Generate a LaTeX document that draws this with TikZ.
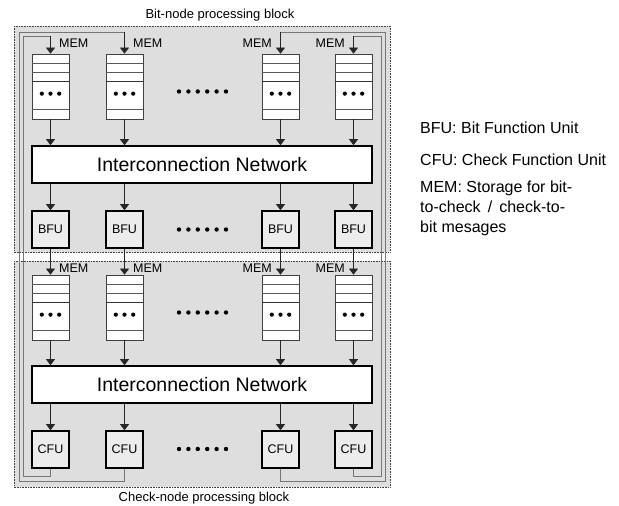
\documentclass[tikz,border=0pt]{standalone}
\usepackage{fontspec}
\setmainfont{Liberation Sans}
\usetikzlibrary{arrows.meta,calc}
\definecolor{bg}{HTML}{DEDEDE}
\definecolor{fu}{HTML}{ECECEC}
\definecolor{fbc}{HTML}{767676}
\begin{document}
\begin{tikzpicture}[x=1pt,y=-1pt,
  blockbox/.style={draw=black!75, densely dotted, fill=bg, line width=0.6pt},
  membox/.style={draw=black!75, fill=white, minimum width=37pt, minimum height=65pt, inner sep=0pt, line width=0.7pt},
  memline/.style={draw=black!65, line width=0.6pt},
  netbox/.style={draw=black, fill=white, line width=1.6pt, minimum width=340pt, minimum height=37pt, inner sep=0pt, font=\fontsize{19.5}{22}\selectfont},
  fubox/.style={draw=black, fill=fu, line width=1.6pt, minimum size=37pt, inner sep=0pt, font=\fontsize{12.5}{14}\selectfont},
  arr/.style={-{Triangle[width=9pt,length=6pt]}, line width=0.6pt, draw=black!85, fill=black},
  fb/.style={draw=fbc, line width=0.8pt},
  memlbl/.style={font=\fontsize{12.5}{14}\selectfont, inner sep=0pt},
  ttl/.style={font=\fontsize{13}{15}\selectfont, inner sep=0pt, anchor=base},
  lgd/.style={font=\fontsize{16}{20}\selectfont, inner sep=0pt, align=left}
]
\useasboundingbox (0,0) rectangle (619,506);
\fill[white] (0,0) rectangle (619,506);
% blocks
\draw[blockbox] (14,26) rectangle (390,252);
\draw[blockbox] (14,261) rectangle (390,487);
\node[ttl] (ttop) at (220,19) {Bit-node processing block};
\node[ttl] (tbot) at (204,501) {Check-node processing block};
% networks
\node[netbox] (net1) at (202,164.5) {Interconnection Network};
\node[netbox] (net2) at (202,384.5) {Interconnection Network};
% coordinates for feedback lines
\coordinate (fa1) at (23,476);  \coordinate (fb1) at (50.5,36);
\coordinate (fa2) at (19,481);  \coordinate (fb2) at (124.5,32);
\coordinate (fa3) at (385,481); \coordinate (fb3) at (280.5,32);
\coordinate (fa4) at (381,476); \coordinate (fb4) at (353.5,36);
% columns
\foreach \i/\x in {1/50.5,2/124.5,3/280.5,4/353.5} {
  \node[membox] (mt\i) at (\x,86.5) {};
  \node[membox] (mb\i) at (\x,307.5) {};
  \node[fubox] (bfu\i) at (\x,229.5) {BFU};
  \node[fubox] (cfu\i) at (\x,449.5) {CFU};
  \foreach \m in {mt\i,mb\i} {
    \foreach \o in {9.5,18.5,56}
      \draw[memline] ($(\m.north west)+(0,\o)$) -- ($(\m.north east)+(0,\o)$);
    \draw[memline, line width=0.9pt, draw=black!80] ($(\m.north west)+(0,28)$) -- ($(\m.north east)+(0,28)$);
    \foreach \d in {-8.7,0,8.7}
      \fill ($(\m.north)+(\d,40)$) circle (2.1pt);
  }
  \draw[arr] (mt\i.south) -- (mt\i.south |- net1.north);
  \draw[arr] (bfu\i.north |- net1.south) -- (bfu\i.north);
  \draw[arr] (bfu\i.south) -- (mb\i.north);
  \draw[arr] (mb\i.south) -- (mb\i.south |- net2.north);
  \draw[arr] (cfu\i.north |- net2.south) -- (cfu\i.north);
  \draw[fb] (cfu\i.south) |- (fa\i) |- (fb\i);
  \draw[arr] (fb\i) -- (mt\i.north);
}
% MEM labels
\node[memlbl, anchor=west] (lt1) at (59,43) {MEM};
\node[memlbl, anchor=west] (lt2) at (133,43) {MEM};
\node[memlbl, anchor=east] (lt3) at (272,43) {MEM};
\node[memlbl, anchor=east] (lt4) at (345,43) {MEM};
\node[memlbl, anchor=west] (lb1) at (59,268) {MEM};
\node[memlbl, anchor=west] (lb2) at (133,268) {MEM};
\node[memlbl, anchor=east] (lb3) at (272,268) {MEM};
\node[memlbl, anchor=east] (lb4) at (345,268) {MEM};
% ellipsis dots
\foreach \y in {91.5,229.5,312.5,449} {
  \foreach \k in {0,...,5}
    \fill (179+9.4*\k,\y) circle (2.2pt);
}
% legend
\node[lgd, anchor=west] (lg1) at (420,128) {BFU: Bit Function Unit};
\node[lgd, anchor=west] (lg2) at (420,160) {CFU: Check Function Unit};
\node[lgd, anchor=north west] (lg3) at (420,180.5) {MEM: Storage for bit-\\to-check \,/\, check-to-\\bit mesages};
\end{tikzpicture}
\end{document}
